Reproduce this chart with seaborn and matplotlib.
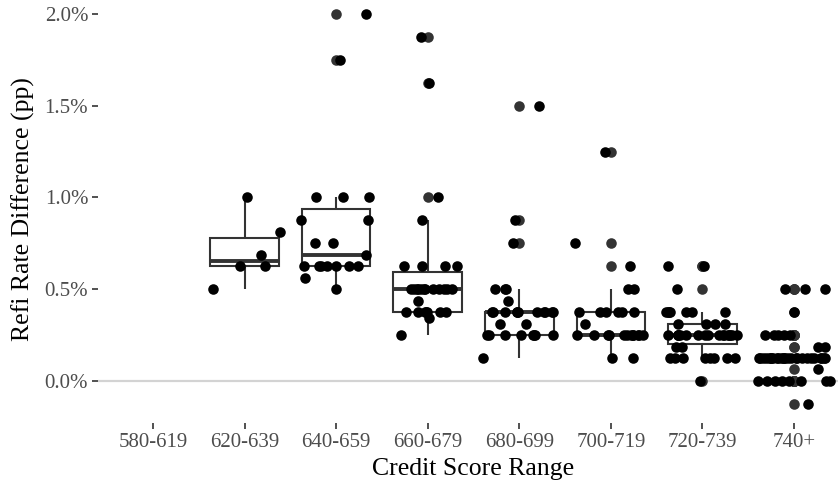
import numpy as np
import pandas as pd
import matplotlib
matplotlib.use("Agg")
import matplotlib.pyplot as plt
import seaborn as sns
from matplotlib.ticker import PercentFormatter

# credit score buckets
categories = ["580-619", "620-639", "640-659", "660-679", "680-699", "700-719", "720-739", "740+"]

# refi rate difference (percentage points) per bucket
r580 = []
r620 = [0.5, 0.625, 0.625, 0.6875, 0.8125, 1.0]
r640 = [0.5, 0.5625, 0.625, 0.625, 0.625, 0.625, 0.625, 0.625, 0.625, 0.6875,
        0.75, 0.75, 0.875, 0.875, 1.0, 1.0, 1.0, 1.75, 2.0]
r660 = [0.25, 0.34375, 0.375, 0.375, 0.375, 0.375, 0.375, 0.375, 0.375, 0.4375,
        0.5, 0.5, 0.5, 0.5, 0.5, 0.5, 0.5, 0.5, 0.5, 0.5, 0.5, 0.5,
        0.625, 0.625, 0.625, 0.625, 0.875, 1.0, 1.625, 1.875]
r680 = [0.125, 0.25, 0.25, 0.25, 0.25, 0.25, 0.25, 0.25, 0.25, 0.3125, 0.3125,
        0.375, 0.375, 0.375, 0.375, 0.375, 0.375, 0.375, 0.375, 0.375, 0.375, 0.375,
        0.4375, 0.5, 0.5, 0.5, 0.75, 0.875, 1.5]
r700 = [0.125, 0.125, 0.25, 0.25, 0.25, 0.25, 0.25, 0.25, 0.25, 0.25, 0.25, 0.25,
        0.25, 0.25, 0.3125, 0.375, 0.375, 0.375, 0.375, 0.375, 0.375,
        0.5, 0.5, 0.625, 0.75, 1.25]
r720 = [0.0, 0.125, 0.125, 0.125, 0.125, 0.125, 0.125, 0.125, 0.125, 0.1875, 0.1875,
        0.25, 0.25, 0.25, 0.25, 0.25, 0.25, 0.25, 0.25, 0.25, 0.25, 0.25, 0.25,
        0.25, 0.25, 0.25, 0.25, 0.25, 0.3125, 0.3125, 0.3125, 0.3125,
        0.375, 0.375, 0.375, 0.375, 0.375, 0.375, 0.375, 0.5, 0.625, 0.625]
r740 = [-0.125, 0.0, 0.0, 0.0, 0.0, 0.0, 0.0, 0.0, 0.0, 0.0625,
        0.125, 0.125, 0.125, 0.125, 0.125, 0.125, 0.125, 0.125, 0.125, 0.125,
        0.125, 0.125, 0.125, 0.125, 0.125, 0.125, 0.125, 0.125, 0.125, 0.125,
        0.125, 0.125, 0.125, 0.125, 0.125, 0.125, 0.1875, 0.1875,
        0.25, 0.25, 0.25, 0.25, 0.25, 0.375, 0.5, 0.5, 0.5]

y_ticks = [0.0, 0.5, 1.0, 1.5, 2.0]

groups = [r580, r620, r640, r660, r680, r700, r720, r740]
df = pd.DataFrame({
    "bucket": [c for c, g in zip(categories, groups) for _ in g],
    "diff": [v for g in groups for v in g],
})
df["bucket"] = pd.Categorical(df["bucket"], categories=categories, ordered=True)

sns.set_theme(style="white")
plt.rcParams["font.family"] = ["Liberation Serif", "DejaVu Serif"]

fig = plt.figure(figsize=(8.38, 4.87), dpi=100)
ax = fig.add_axes([0.1169, 0.1306, 0.8962, 0.8807])

ax.axhline(0, color="#D3D3D3", linewidth=1.6, zorder=0)

sns.boxplot(data=df, x="bucket", y="diff", order=categories, ax=ax,
            width=0.75, color="white", linecolor="#333333", linewidth=1.5,
            saturation=1, showcaps=False,
            medianprops=dict(linewidth=2.8, color="#333333"),
            flierprops=dict(marker="o", markerfacecolor="#333333",
                            markeredgecolor="none", markersize=7.6))

np.random.seed(7)
sns.stripplot(data=df, x="bucket", y="diff", order=categories, ax=ax,
              jitter=0.4, color="black", size=7.6, linewidth=0, zorder=3)

ax.set_xlim(-0.6, 7.6)
ax.set_ylim(-0.23125, 2.10625)
ax.set_yticks(y_ticks)
ax.yaxis.set_major_formatter(PercentFormatter(xmax=100, decimals=1))
for s in ax.spines.values():
    s.set_visible(False)
ax.grid(False)
ax.tick_params(axis="both", length=4, width=1.2, color="#333333",
               labelcolor="#4D4D4D", labelsize=15, pad=3, bottom=True, left=True)
ax.set_xlabel("Credit Score Range", fontsize=18.5, color="black", labelpad=4)
ax.set_ylabel("Refi Rate Difference (pp)", fontsize=18.5, color="black", labelpad=7)

fig.savefig("out.png", dpi=100)
